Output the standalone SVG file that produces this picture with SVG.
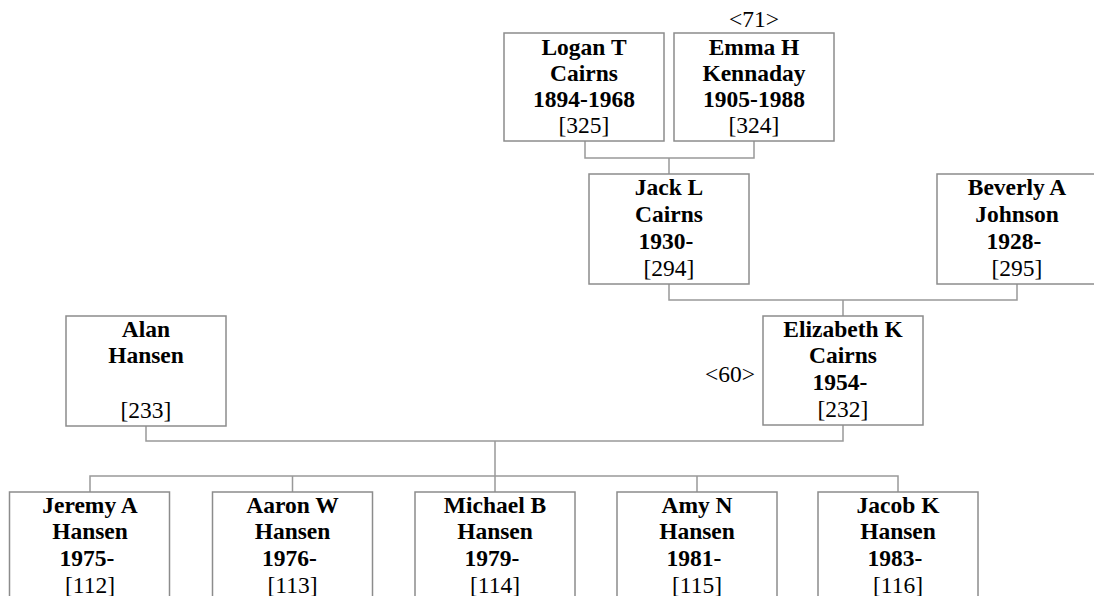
<svg xmlns="http://www.w3.org/2000/svg" width="1094" height="596" viewBox="0 0 1094 596">
<style>
.box{fill:#fff;stroke:#8c8c8c;stroke-width:1.5}
.ln{fill:none;stroke:#999;stroke-width:1.5}
text{font-family:'Liberation Serif',serif;font-size:23.5px;text-anchor:middle;fill:#000}
.b{font-weight:bold}
</style>
<rect width="1094" height="596" fill="#fff"/>
<g id="connectors">
<path class="ln" d="M585 141V158H754V141M669 158V174"/>
<path class="ln" d="M669 284V300H1017V284M843 300V316"/>
<path class="ln" d="M146 426V441H843V425M495 441V476"/>
<path class="ln" d="M90 492V476H898V492M292.5 476V492M495 476V492M697 476V492"/>
</g>
<g id="logan">
<rect class="box" x="504" y="33" width="160" height="108"/>
<text x="584" y="55" class="b">Logan T</text>
<text x="584" y="81" class="b">Cairns</text>
<text x="584" y="107" class="b">1894-1968</text>
<text x="584" y="133">[325]</text>
</g>
<g id="emma">
<rect class="box" x="674" y="33" width="160" height="108"/>
<text x="754" y="27">&lt;71&gt;</text>
<text x="754" y="55" class="b">Emma H</text>
<text x="754" y="81" class="b">Kennaday</text>
<text x="754" y="107" class="b">1905-1988</text>
<text x="754" y="133">[324]</text>
</g>
<g id="jack">
<rect class="box" x="589" y="174" width="160" height="110"/>
<text x="669" y="195" class="b">Jack L</text>
<text x="669" y="222" class="b">Cairns</text>
<text x="666" y="249" class="b">1930-</text>
<text x="669" y="276">[294]</text>
</g>
<g id="beverly">
<rect class="box" x="937" y="174" width="160" height="110"/>
<text x="1017" y="195" class="b">Beverly A</text>
<text x="1017" y="222" class="b">Johnson</text>
<text x="1014" y="249" class="b">1928-</text>
<text x="1017" y="276">[295]</text>
</g>
<g id="alan">
<rect class="box" x="66" y="316" width="160" height="110"/>
<text x="146" y="337" class="b">Alan</text>
<text x="146" y="363" class="b">Hansen</text>
<text x="146" y="418">[233]</text>
</g>
<g id="elizabeth">
<rect class="box" x="763" y="316" width="160" height="109"/>
<text x="730" y="382">&lt;60&gt;</text>
<text x="843" y="337" class="b">Elizabeth K</text>
<text x="843" y="363" class="b">Cairns</text>
<text x="840" y="390" class="b">1954-</text>
<text x="843" y="417">[232]</text>
</g>
<g id="jeremy">
<rect class="box" x="9.5" y="492" width="160" height="110"/>
<text x="90" y="513" class="b">Jeremy A</text>
<text x="90" y="539" class="b">Hansen</text>
<text x="87" y="566" class="b">1975-</text>
<text x="90" y="593">[112]</text>
</g>
<g id="aaron">
<rect class="box" x="212.5" y="492" width="160" height="110"/>
<text x="292.5" y="513" class="b">Aaron W</text>
<text x="292.5" y="539" class="b">Hansen</text>
<text x="289.5" y="566" class="b">1976-</text>
<text x="292.5" y="593">[113]</text>
</g>
<g id="michael">
<rect class="box" x="415" y="492" width="160" height="110"/>
<text x="495" y="513" class="b">Michael B</text>
<text x="495" y="539" class="b">Hansen</text>
<text x="492" y="566" class="b">1979-</text>
<text x="495" y="593">[114]</text>
</g>
<g id="amy">
<rect class="box" x="617" y="492" width="160" height="110"/>
<text x="697" y="513" class="b">Amy N</text>
<text x="697" y="539" class="b">Hansen</text>
<text x="694" y="566" class="b">1981-</text>
<text x="697" y="593">[115]</text>
</g>
<g id="jacob">
<rect class="box" x="818" y="492" width="160" height="110"/>
<text x="898" y="513" class="b">Jacob K</text>
<text x="898" y="539" class="b">Hansen</text>
<text x="895" y="566" class="b">1983-</text>
<text x="898" y="593">[116]</text>
</g>
</svg>
